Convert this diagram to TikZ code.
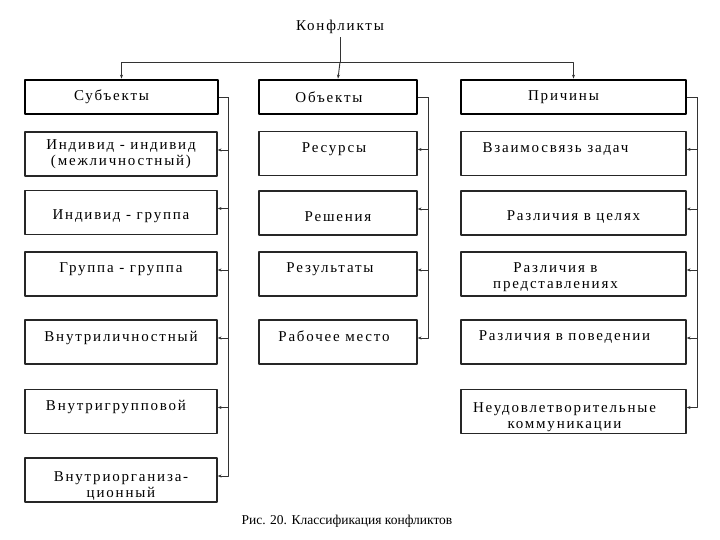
\documentclass[tikz,border=0pt]{standalone}
\usepackage{fontspec}
\setmainfont{Liberation Serif}
\newfontfamily\wide[LetterSpace=12]{Liberation Serif}
\usetikzlibrary{arrows.meta}
\newcommand{\lsh}[1]{\hspace*{#1}}
\newcommand{\dn}[1]{\rule{0pt}{#1}}
\begin{document}
\begin{tikzpicture}[x=1pt, y=-1pt, line join=round, >={Stealth[length=4pt,width=3pt]},
    every node/.style={font=\wide\fontsize{15}{16}\selectfont},
    head/.style={draw, line width=2.8pt, minimum height=34pt, inner sep=0pt},
    item/.style={draw, line width=1.2pt, draw=black!85, minimum height=44pt, inner sep=0pt, align=center},
    up/.style={text depth=12pt},
    down/.style={text height=18pt},
    link/.style={draw, line width=0.9pt, draw=black!80}]
	\useasboundingbox (0,0) rectangle (720,540);
	\node (konf) at (340,27) {Конфликты};
	% заголовки
	\node[head, minimum width=193pt] (sub) at (121.5,97) {Субъекты\lsh{20pt}};
	\node[head, minimum width=158pt] (obj) at (338,97) {Объекты\lsh{18pt}};
	\node[head, minimum width=225pt] (pri) at (573.5,97) {Причины\lsh{20pt}};
	% субъекты
	\node[item, minimum width=192pt] (s1) at (121,154) {Индивид - индивид\\(межличностный)};
	\node[item, minimum width=192pt, down] (s2) at (121,212.5) {Индивид - группа};
	\node[item, minimum width=192pt, up] (s3) at (121,274) {Группа - группа};
	\node[item, minimum width=192pt, up] (s4) at (121,342) {Внутриличностный};
	\node[item, minimum width=192pt, up] (s5) at (121,411.5) {Внутригрупповой\lsh{10pt}};
	\node[item, minimum width=192pt] (s6) at (121,480) {\dn{22pt}Внутриорганиза-\\ционный};
	% объекты
	\node[item, minimum width=158pt, up] (o1) at (338,153.5) {Ресурсы\lsh{8pt}};
	\node[item, minimum width=158pt, down] (o2) at (338,213) {Решения};
	\node[item, minimum width=158pt, up] (o3) at (338,274) {Результаты\lsh{16pt}};
	\node[item, minimum width=158pt, up] (o4) at (338,342) {Рабочее место\lsh{8pt}};
	% причины
	\node[item, minimum width=225pt, up] (p1) at (573.5,153.5) {Взаимосвязь задач\lsh{36pt}};
	\node[item, minimum width=225pt, down] (p2) at (573.5,213) {Различия в целях};
	\node[item, minimum width=225pt] (p3) at (573.5,274) {\dn{17pt}Различия в\lsh{36pt}\\представлениях\lsh{36pt}};
	\node[item, minimum width=225pt, up] (p4) at (573.5,342) {Различия в поведении\lsh{18pt}};
	\node[item, minimum width=225pt] (p5) at (573.5,411.5) {\dn{22pt}Неудовлетворительные\lsh{18pt}\\коммуникации\lsh{18pt}};
	\node[font=\rmfamily\fontsize{13.5}{16}\selectfont] (cap) at (347,521) {Рис. 20. Классификация конфликтов};
	% связи сверху
	\coordinate (top) at (340,62);
	\draw[link] (konf.south) -- (top);
	\draw[link,->] (top) -- (obj.north);
	\draw[link,->] (top) -| (sub.north);
	\draw[link,->] (top) -| (pri.north);
	% шины справа
	\foreach \h/\x/\list in {sub/228/{s1,s2,s3,s4,s5,s6}, obj/428/{o1,o2,o3,o4}, pri/697/{p1,p2,p3,p4,p5}}{
		\foreach \c in \list{
			\draw[link,->] (\h.east) -- (\x,97) |- ([yshift=4pt]\c.east);
		}
	}
\end{tikzpicture}
\end{document}
